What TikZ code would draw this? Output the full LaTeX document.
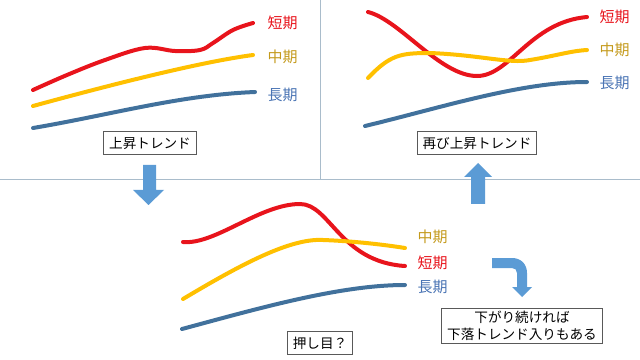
\documentclass[tikz,border=0pt]{standalone}
\usepackage{fontspec}
\setmainfont{Noto Sans CJK JP}
\usetikzlibrary{positioning}
\definecolor{shortred}{HTML}{E8141C}
\definecolor{midyellow}{HTML}{FFC000}
\definecolor{longblue}{HTML}{41719C}
\definecolor{midlabel}{HTML}{C49A1C}
\definecolor{longlabel}{HTML}{4A74B4}
\definecolor{divider}{HTML}{A9BCCB}
\definecolor{arrowblue}{HTML}{5B9BD5}
\tikzset{every picture/.style={line width=0.75pt}}

\begin{document}
\begin{tikzpicture}[x=0.75pt,y=-0.75pt,
    redline/.style={shortred,line width=3pt,line cap=round},
    yellowline/.style={midyellow,line width=3pt,line cap=round},
    blueline/.style={longblue,line width=3pt,line cap=round},
    lbl/.style={anchor=west,inner sep=0pt,font=\fontsize{11.25}{13}\selectfont},
    caption/.style={draw=black!65,line width=0.6pt,fill=white,font=\fontsize{10.2}{13}\selectfont,
        inner xsep=4pt,inner ysep=2pt,minimum height=17pt,align=center},
    blockarrow/.style={fill=arrowblue}]
    \useasboundingbox (0,0) rectangle (640,360);

    % panel dividers
    \draw[divider] (0,180) -- (640,180);
    \draw[divider] (320,0) -- (320,180);

    % upper left: rising trend
    \draw[redline] plot[smooth,tension=0.6] coordinates
        {(33,90) (67,75) (105,60) (145,48) (175,51) (200,50) (213,43) (233,30) (253,23)};
    \draw[yellowline] (33,106) .. controls (110,85) and (200,62) .. (253,55);
    \draw[blueline] (33,128) .. controls (110,115) and (180,95) .. (255,92);
    \node[lbl,shortred] (ulshort) at (267,23) {短期};
    \node[lbl,midlabel] (ulmid) at (267,57) {中期};
    \node[lbl,longlabel] (ullong) at (267,95) {長期};
    \node[caption] (uptrend) at (150,143) {上昇トレンド};

    % upper right: rising again
    \draw[redline] (368,12) .. controls (400,20) and (440,76) .. (477,76)
        .. controls (510,76) and (530,22) .. (587,17);
    \draw[yellowline] (368,78) .. controls (390,55) and (400,53) .. (430,53)
        .. controls (480,55) and (510,64) .. (530,60) .. controls (555,56) and (570,51) .. (587,50);
    \draw[blueline] (365,126) .. controls (440,108) and (520,82) .. (587,82);
    \node[lbl,shortred] (urshort) at (599,17) {短期};
    \node[lbl,midlabel] (urmid) at (599,50) {中期};
    \node[lbl,longlabel] (urlong) at (599,83) {長期};
    \node[caption] (againtrend) at (477,143) {再び上昇トレンド};

    % lower: pullback
    \draw[redline] (183,242) .. controls (215,245) and (260,204) .. (300,204)
        .. controls (330,204) and (340,262) .. (405,266);
    \draw[yellowline] (183,299) .. controls (240,265) and (290,238) .. (323,240)
        .. controls (350,241) and (380,244) .. (405,248);
    \draw[blueline] (182,329) .. controls (260,308) and (340,285) .. (405,285);
    \node[lbl,midlabel] (lomid) at (417,237) {中期};
    \node[lbl,shortred] (loshort) at (417,263) {短期};
    \node[lbl,longlabel] (lolong) at (417,287) {長期};
    \node[caption] (pullback) at (320,343) {押し目？};
    \node[caption] (downnote) at (522,326) {下がり続ければ\\下落トレンド入りもある};

    % block arrows
    \fill[blockarrow] (143,165) -- (156,165) -- (156,190) -- (164,190) -- (148.5,205)
        -- (133,190) -- (143,190) -- cycle;
    \fill[blockarrow] (471,204) -- (485,204) -- (485,177) -- (492,177) -- (478,163)
        -- (464,177) -- (471,177) -- cycle;
    \fill[blockarrow] (492,258) -- (512,258) .. controls (521,258) and (527,264) .. (527,273)
        -- (527,287) -- (532,287) -- (522,297) -- (512,287) -- (517,287) -- (517,273)
        .. controls (517,270) and (515,268) .. (512,268) -- (492,268) -- cycle;
\end{tikzpicture}
\end{document}
